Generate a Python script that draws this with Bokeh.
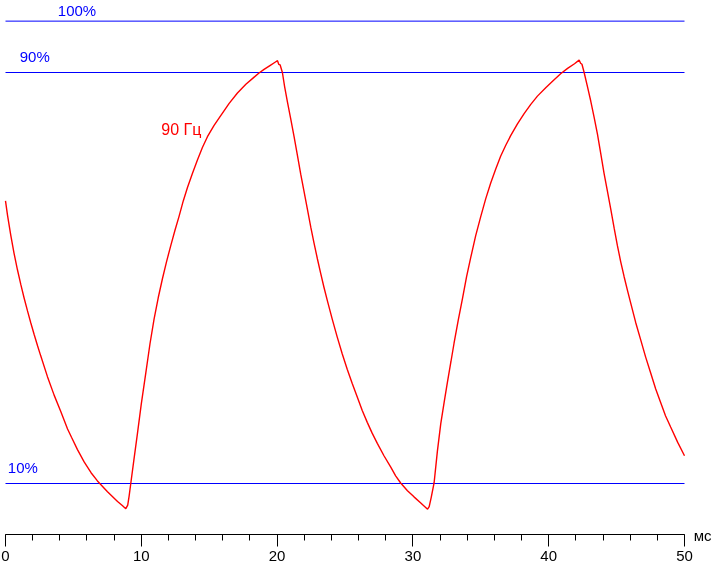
from bokeh.plotting import figure
from bokeh.models import Range1d, SingleIntervalTicker, Label, LinearAxis
from bokeh.embed import file_html
from bokeh.resources import INLINE

# ---- data ----
time_ms = [
    0.00, 0.15, 0.39, 0.63, 0.88, 1.13, 1.37, 1.62, 1.86, 2.11, 2.36, 2.60, 3.09, 3.58,
    4.07, 4.57, 4.86, 5.30, 5.79, 6.30, 6.77, 7.51, 8.25, 8.60, 8.86,
    9.00, 9.10, 9.23, 9.45, 9.72, 10.00, 10.33, 10.64, 10.94, 11.25, 11.56, 11.86, 12.17,
    12.48, 12.78, 13.09, 13.40, 13.77, 14.14, 14.50, 14.87, 15.36, 15.85, 16.47, 17.08,
    17.70, 18.31, 18.67, 19.04, 19.50, 19.85, 20.03, 20.12, 20.22,
    20.39, 20.55, 20.76, 21.00, 21.25, 21.50, 21.74, 22.00, 22.23, 22.48, 22.72, 22.97,
    23.21, 23.45, 23.70, 24.07, 24.43, 24.80, 25.17, 25.54, 25.91, 26.27, 26.64, 27.00,
    27.38, 27.87, 28.37, 28.73, 29.10, 29.60, 30.08, 30.58, 31.08,
    31.20, 31.35, 31.56, 31.80, 32.05, 32.30, 32.54, 32.80, 33.03, 33.34, 33.65, 33.95,
    34.26, 34.62, 34.99, 35.36, 35.73, 36.10, 36.46, 36.83, 37.20, 37.70, 38.19, 38.68,
    39.17, 39.80, 40.40, 40.90, 41.39, 41.90, 42.24, 42.35, 42.45,
    42.61, 42.85, 43.10, 43.35, 43.59, 43.84, 44.08, 44.33, 44.57, 44.82, 45.06, 45.30,
    45.55, 45.80, 46.04, 46.40, 46.77, 47.14, 47.51, 47.88, 48.25, 48.60, 48.98, 49.50,
    50.00,
]
response_pct = [
    65.0, 62.2, 58.3, 54.8, 51.6, 48.7, 46.1, 43.6, 41.3, 39.0, 36.8, 34.8, 30.8, 27.2,
    24.0, 20.6, 19.0, 16.6, 14.2, 12.1, 10.5, 8.4, 6.5, 5.7, 5.1,
    5.8, 7.5, 10.1, 14.5, 19.8, 25.5, 31.5, 37.2, 42.0, 46.2, 49.9, 53.2, 56.3,
    59.3, 62.0, 65.0, 67.6, 70.4, 73.0, 75.4, 77.5, 79.7, 81.6, 84.0, 86.0,
    87.7, 89.1, 89.9, 90.6, 91.4, 92.0, 92.3, 91.6, 91.5,
    90.0, 87.3, 84.3, 81.0, 77.5, 73.8, 70.2, 66.6, 63.4, 59.9, 56.8, 53.7,
    50.9, 48.2, 45.6, 41.9, 38.5, 35.2, 32.2, 29.4, 26.8, 24.2, 21.9, 19.8,
    17.8, 15.4, 13.2, 11.5, 10.1, 8.6, 7.4, 6.2, 5.0,
    5.5, 7.3, 10.1, 16.2, 21.6, 25.8, 29.7, 33.7, 37.3, 41.8, 46.0, 50.2,
    54.0, 58.2, 61.9, 65.4, 68.5, 71.2, 73.7, 75.8, 77.7, 80.0, 82.0, 83.8,
    85.4, 87.1, 88.6, 89.8, 90.8, 91.7, 92.4, 91.8, 91.6,
    90.0, 87.3, 84.4, 81.2, 78.0, 74.1, 70.3, 66.8, 63.4, 59.7, 56.3, 53.2,
    50.3, 47.6, 45.1, 41.4, 38.0, 34.6, 31.5, 28.4, 25.7, 23.2, 21.0, 18.0,
    15.4,
]
level_values = [10, 90, 100]
level_labels = ["10%", "90%", "100%"]
level_label_x = [0.17, 1.05, 3.85]
level_label_y = [13.05, 93.05, 102.1]
series_label = "90 Гц"
unit_label = "мс"
x_ticks_interval = 10

BLUE = "#0000ff"
RED = "#ff0000"
FONT = "Liberation Sans"

PX_PER_MS = 13.58
PX_PER_PCT = 5.1375
Y_TOP = 104.112 - 0.5 / PX_PER_PCT

p = figure(
    frame_width=711, frame_height=563,
    x_range=Range1d(-5 / PX_PER_MS, -5 / PX_PER_MS + 711 / PX_PER_MS),
    y_range=Range1d(Y_TOP - 563 / PX_PER_PCT, Y_TOP),
    output_backend="svg", toolbar_location=None,
    min_border_left=0, min_border_right=0, min_border_top=0, min_border_bottom=0,
    x_axis_location=None, y_axis_location=None,
    background_fill_color="white", border_fill_color="white",
)
p.styles = {"position": "fixed", "top": "0px", "left": "0px"}
p.outline_line_color = None
p.xgrid.grid_line_color = None
p.ygrid.grid_line_color = None

ax = LinearAxis(fixed_location=0, bounds=(0, 50))
ax.ticker = SingleIntervalTicker(interval=x_ticks_interval, num_minor_ticks=5)
ax.axis_line_color = "black"
ax.major_tick_line_color = "black"
ax.minor_tick_line_color = "black"
ax.major_tick_in = 0
ax.major_tick_out = 12
ax.minor_tick_in = 0
ax.minor_tick_out = 6
ax.major_label_standoff = 4
ax.major_label_text_font = FONT
ax.major_label_text_font_size = "15px"
ax.major_label_text_color = "black"
p.add_layout(ax, "below")

# reference levels
p.segment(x0=[0] * len(level_values), x1=[50] * len(level_values),
          y0=level_values, y1=level_values, line_color=BLUE, line_width=1)

# response curve
p.line(time_ms, response_pct, line_color=RED, line_width=1.4)

for t, lx, ly in zip(level_labels, level_label_x, level_label_y):
    p.add_layout(Label(x=lx, y=ly, text=t, text_font=FONT, text_font_size="15px",
                       text_color=BLUE, text_baseline="alphabetic", text_align="left"))

p.add_layout(Label(x=11.47, y=78.95, text=series_label, text_font=FONT,
                   text_font_size="16px", text_color=RED, text_baseline="alphabetic"))
p.add_layout(Label(x=50.68, y=-0.2, text=unit_label, text_font=FONT,
                   text_font_size="15px", text_color="black", text_baseline="alphabetic"))

open("out.html", "w").write(file_html(p, INLINE))
